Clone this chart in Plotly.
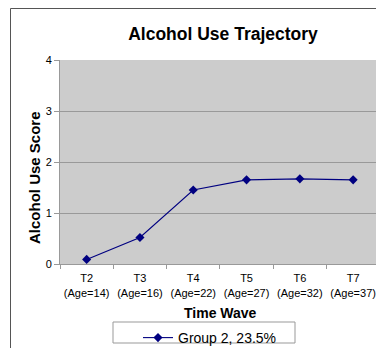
import plotly.graph_objects as go

categories = ["T2<br>(Age=14)", "T3<br>(Age=16)", "T4<br>(Age=22)",
              "T5<br>(Age=27)", "T6<br>(Age=32)", "T7<br>(Age=37)"]
group2 = [0.09, 0.52, 1.45, 1.65, 1.67, 1.65]
series_name = "Group 2, 23.5%"
y_ticks = [0, 1, 2, 3, 4]

W, H = 376, 348
L, R, T, B = 60, 0, 60, 84
pw = W - L - R
ph = H - T - B

FONT = "Liberation Sans, Arial, sans-serif"
NAVY = "#000080"

fig = go.Figure()
fig.add_trace(go.Scatter(
    x=categories, y=group2, mode="lines+markers", name=series_name,
    line=dict(color=NAVY, width=1.1),
    marker=dict(symbol="diamond", size=7, color=NAVY),
))

spacing = 53.3
fig.update_layout(
    width=W, height=H,
    margin=dict(l=L, r=R, t=T, b=B, autoexpand=False),
    paper_bgcolor="white",
    plot_bgcolor="#cccccc",
    font=dict(family=FONT, color="black"),
    title=dict(text="<b>Alcohol Use Trajectory</b>", x=223 / W, xanchor="center",
               y=1 - 34 / H, yanchor="middle",
               font=dict(size=17.5, family=FONT, color="black")),
    showlegend=True,
    legend=dict(x=(138 - L) / pw, xanchor="left", y=-(322 - T - ph) / ph,
                yanchor="top", orientation="h",
                bgcolor="rgba(0,0,0,0)", borderwidth=0,
                font=dict(size=14, family=FONT, color="black")),
    xaxis=dict(
        type="category", range=[-0.5, -0.5 + pw / spacing],
        tickson="boundaries", ticks="outside", ticklen=4, tickcolor="#999999",
        tickangle=0, automargin=False, ticklabelstandoff=4,
        showgrid=False, showline=True, linecolor="#999999", linewidth=1,
        tickfont=dict(size=11, family=FONT, color="black"),
        fixedrange=True,
    ),
    yaxis=dict(
        range=[0, 4], tickvals=y_ticks, ticks="outside", ticklen=5,
        tickcolor="#999999", showgrid=True, gridcolor="#999999", gridwidth=1,
        showline=True, linecolor="#999999", linewidth=1, zeroline=False,
        automargin=False,
        tickfont=dict(size=11, family=FONT, color="black"),
        fixedrange=True,
    ),
)

# axis titles
fig.add_annotation(text="<b>Time Wave</b>", xref="paper", yref="paper",
                   x=(220 - L) / pw, y=-(313 - T - ph) / ph, showarrow=False,
                   xanchor="center", yanchor="middle",
                   font=dict(size=14, family=FONT, color="black"))
fig.add_annotation(text="<b>Alcohol Use Score</b>", xref="paper", yref="paper",
                   x=(34 - L) / pw, y=1 - (178 - T) / ph, showarrow=False,
                   textangle=-90, xanchor="center", yanchor="middle",
                   font=dict(size=15, family=FONT, color="black"))

# legend box
fig.add_shape(type="rect", xref="paper", yref="paper",
              x0=(113 - L) / pw, x1=(295 - L) / pw,
              y0=-(343 - T - ph) / ph, y1=-(322 - T - ph) / ph,
              line=dict(color="#999999", width=1), fillcolor="white", layer="below")
# chart area border
fig.add_shape(type="rect", xref="paper", yref="paper",
              x0=(10.5 - L) / pw, x1=1.2,
              y0=-0.6, y1=1 + (T - 8.5) / ph,
              line=dict(color="#555555", width=1), fillcolor="rgba(0,0,0,0)")

fig.write_html("out.html", config={"displayModeBar": False},
               post_script="document.body.style.margin='0';document.body.style.overflow='hidden';")
